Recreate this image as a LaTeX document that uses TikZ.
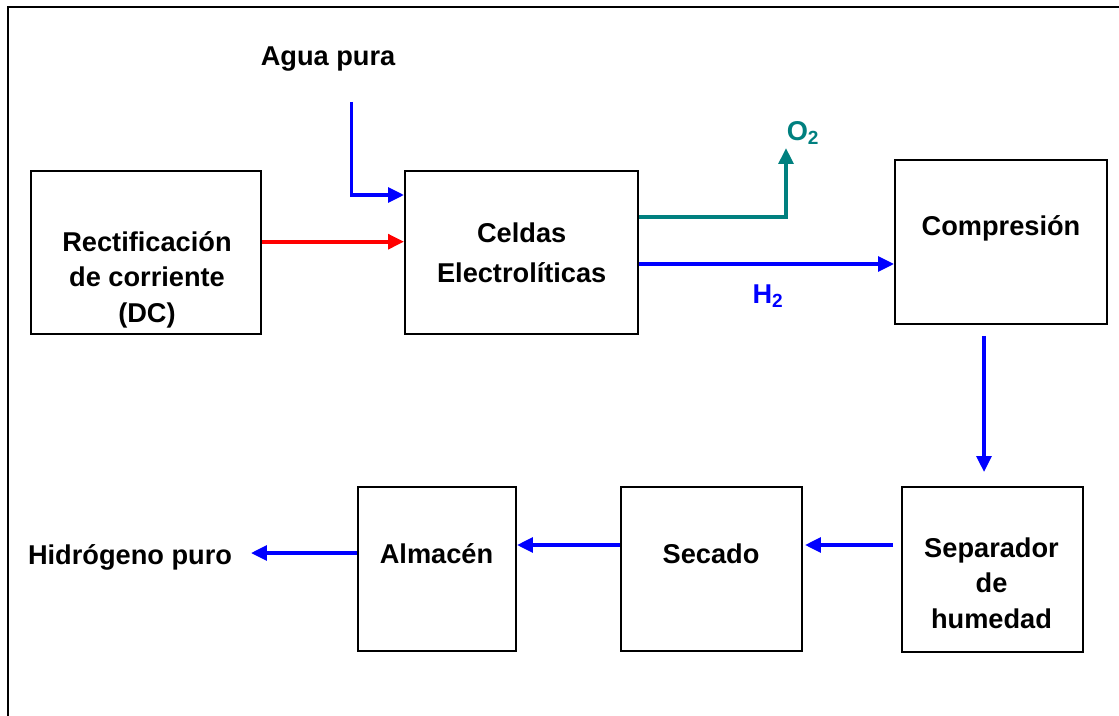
\documentclass[tikz,border=0pt]{standalone}
\usepackage{fontspec}
\setmainfont{Liberation Sans}
\usetikzlibrary{arrows.meta,positioning}
\definecolor{hpblue}{HTML}{0000FF}
\definecolor{hpred}{HTML}{FF0000}
\definecolor{hpteal}{HTML}{00807F}
\tikzset{
  hpbox/.style={draw=black, line width=1.4pt, fill=white, inner sep=0pt},
  hptext/.style={font=\bfseries\fontsize{20.4}{26.6}\selectfont, align=center,
    anchor=base, inner sep=0pt},
  hparrow/.style={-{Triangle[length=12pt,width=11pt]}, line width=2.8pt, draw=hpblue},
  hpframe/.style={line width=1.6pt, draw=black}
}

\begin{document}
\begin{tikzpicture}[x=0.75pt, y=-0.75pt]
  \useasboundingbox (0,0) rectangle (1119,716);
  \draw[hpframe] (8,716) -- (8,7) -- (1119,7);
  % boxes
  \node[hpbox, minimum width=172.5pt, minimum height=122.25pt] (rect) at (146,252.5) {};
  \node[hpbox, minimum width=174.75pt, minimum height=122.25pt] (cel) at (521.5,252.5) {};
  \node[hpbox, minimum width=159pt, minimum height=123pt] (comp) at (1001,242) {};
  \node[hpbox, minimum width=135.75pt, minimum height=123.75pt] (sep) at (992.5,569.5) {};
  \node[hpbox, minimum width=135.75pt, minimum height=123pt] (sec) at (711.5,569) {};
  \node[hpbox, minimum width=118.5pt, minimum height=123pt] (alm) at (437,569) {};
  % texts (base = last line)
  \node[hptext] (rect-t) at (147,322) {Rectificación\\de corriente\\(DC)};
  \node[hptext] (cel-t) at (521.7,282.3) {Celdas\\[3.4pt]Electrolíticas};
  \node[hptext] (comp-t) at (1001,235.5) {Compresión};
  \node[hptext] (sep-t) at (991.5,628) {Separador\\de\\humedad};
  \node[hptext] (sec-t) at (711,563) {Secado};
  \node[hptext] (alm-t) at (436.5,563) {Almacén};
  \node[hptext] (agua) at (328,66) {Agua pura};
  \node[hptext] (hidro) at (130,564) {Hidrógeno puro};
  \node[hptext, text=hpteal] (o2) at (803,140.7) {O\textsubscript{2}};
  \node[hptext, text=hpblue] (h2) at (768,303) {H\textsubscript{2}};
  % stream levels
  \coordinate (aguatop) at (351.5,102);
  \coordinate (aguain) at (0,195);
  \coordinate (dcin) at (0,241.7);
  \coordinate (o2out) at (0,217);
  \coordinate (o2tip) at (786,148);
  \coordinate (h2out) at (0,264);
  \coordinate (down) at (984,0);
  \coordinate (back) at (0,545);
  \coordinate (final) at (0,553);
  % connectors
  \draw[hparrow] (aguatop) |- (cel.west |- aguain);
  \draw[hparrow, draw=hpred] (rect.east |- dcin) -- (cel.west |- dcin);
  \draw[hparrow, draw=hpteal] (cel.east |- o2out) -| (o2tip);
  \draw[hparrow] (cel.east |- h2out) -- (comp.west |- h2out);
  \draw[hparrow, shorten <=8.25pt, shorten >=10.5pt] (comp.south -| down) -- (sep.north -| down);
  \draw[hparrow, shorten <=6pt, shorten >=1.5pt] (sep.west |- back) -- (sec.east |- back);
  \draw[hparrow] (sec.west |- back) -- (alm.east |- back);
  \draw[hparrow, shorten >=14pt] (alm.west |- final) -- (hidro.east |- final);
\end{tikzpicture}
\end{document}
